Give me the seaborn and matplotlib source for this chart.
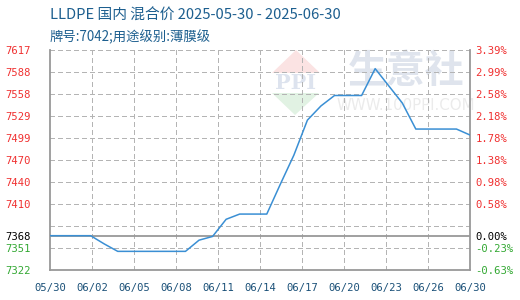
import numpy as np
import pandas as pd
import matplotlib
matplotlib.use("Agg")
import matplotlib.pyplot as plt
import seaborn as sns
from matplotlib.patches import Polygon

# ---------------- data ----------------
dates = ["2025-05-30", "2025-05-31", "2025-06-01", "2025-06-02", "2025-06-03",
         "2025-06-04", "2025-06-05", "2025-06-06", "2025-06-07", "2025-06-08",
         "2025-06-09", "2025-06-10", "2025-06-11", "2025-06-12", "2025-06-13",
         "2025-06-14", "2025-06-15", "2025-06-16", "2025-06-17", "2025-06-18",
         "2025-06-19", "2025-06-20", "2025-06-21", "2025-06-22", "2025-06-23",
         "2025-06-24", "2025-06-25", "2025-06-26", "2025-06-27", "2025-06-28",
         "2025-06-29", "2025-06-30"]
prices = [7368, 7368, 7368, 7368, 7357,
          7347, 7347, 7347, 7347, 7347,
          7347, 7362, 7367, 7390, 7397,
          7397, 7397, 7437, 7476, 7523,
          7542, 7556, 7556, 7556, 7592,
          7569, 7546, 7511, 7511, 7511,
          7511, 7503]
base_price = 7368
x_labels = ["05/30", "06/02", "06/05", "06/08", "06/11", "06/14",
            "06/17", "06/20", "06/23", "06/26", "06/30"]
y_min, y_max = 7322, 7617
left_labels = ["7322", "7351", "", "7410", "7440", "7470", "7499",
               "7529", "7558", "7588", "7617"]
right_labels = ["-0.63%", "-0.23%", "", "0.58%", "0.98%", "1.38%", "1.78%",
                "2.18%", "2.58%", "2.99%", "3.39%"]
base_left_label = "7368"
base_right_label = "0.00%"
title_line1 = "LLDPE 国内 混合价 2025-05-30 - 2025-06-30"
title_line2 = "牌号:7042;用途级别:薄膜级"

# ---------------- figure ----------------
sns.set_theme(style="white")
plt.rcParams['font.family'] = ['Noto Sans CJK SC', 'DejaVu Sans']

W, H = 520, 300
fig = plt.figure(figsize=(W / 100, H / 100), dpi=100)
fig.patch.set_facecolor("white")

L, R, T, B = 50, 470, 50, 270
ax = fig.add_axes([L / W, 1 - B / H, (R - L) / W, (B - T) / H])
ax.set_facecolor("none")
ax.set_zorder(2)

df = pd.DataFrame({"date": pd.to_datetime(dates), "price": prices})
df["day"] = (df["date"] - df["date"].iloc[0]).dt.days


def px(x, y):
    return (x / W, 1 - y / H)

# watermark (behind the plot)
fig.add_artist(Polygon([px(296, 50), px(320, 73), px(272, 73)], closed=True,
                       transform=fig.transFigure, facecolor="#fbe3e3",
                       edgecolor="none", zorder=-1))
fig.add_artist(Polygon([px(272, 93), px(319, 93), px(295, 115)], closed=True,
                       transform=fig.transFigure, facecolor="#e1f2e3",
                       edgecolor="none", zorder=-1))
fig.text(*px(296, 83), "PPI", fontsize=15, fontweight="bold", color="#dde3ee",
         ha="center", va="center", family="DejaVu Serif", zorder=-1)
fig.text(*px(406, 72), "生意社", fontsize=28, fontweight="bold", color="#dfe4ed",
         ha="center", va="center", zorder=-1)
fig.text(*px(406, 106), "WWW.100PPI.COM", fontsize=10.8, color="#ebebeb",
         ha="center", va="center", family="DejaVu Sans", zorder=-1)

xt = np.linspace(0, df["day"].iloc[-1], len(x_labels))
yt = np.linspace(y_min, y_max, len(left_labels))

sns.lineplot(data=df, x="day", y="price", ax=ax, color="#3a8fd4",
             linewidth=1.1, zorder=5)
ax.axhline(base_price, color="#999999", linewidth=1.3, zorder=3)

ax.set_xlim(0, df["day"].iloc[-1])
ax.set_ylim(y_min, y_max)

ax.set_xticks(xt)
ax.set_xticklabels(x_labels)
ax.set_yticks(list(yt) + [base_price])
ax.set_yticklabels(left_labels + [base_left_label])
ax.set_xlabel("")
ax.set_ylabel("")

grid_kw = dict(color="#b4b4b4", linewidth=0.75, linestyle=(0, (4, 3)),
               antialiased=False, zorder=1)
for v in xt[1:-1]:
    ax.axvline(v, **grid_kw)
for v in yt[1:]:
    ax.axhline(v, **grid_kw)

for s in ["left", "right", "bottom"]:
    ax.spines[s].set_color("#999999")
    ax.spines[s].set_linewidth(1.3)
ax.spines["top"].set_visible(False)

mono = "DejaVu Sans Mono"
ax.tick_params(axis="both", length=0)
ax.tick_params(axis="x", pad=9, labelsize=7.6, labelcolor="#1a5078")
for t in ax.get_xticklabels():
    t.set_family(mono)
ax.tick_params(axis="y", pad=0, labelsize=7.6)
for t in ax.get_yticklabels():
    t.set_family(mono)
    t.set_horizontalalignment("left")
    txt = t.get_text()
    if txt == base_left_label:
        t.set_color("black")
    elif txt and int(txt) < base_price:
        t.set_color("#33a833")
    else:
        t.set_color("#f03030")
for lab in ax.get_yticklabels():
    lab.set_position((-45 / (R - L), lab.get_position()[1]))

ax2 = ax.twinx()
ax2.set_ylim(y_min, y_max)
ax2.set_yticks(list(yt) + [base_price])
ax2.set_yticklabels(right_labels + [base_right_label])
ax2.tick_params(axis="y", length=0, pad=4, labelsize=7.6)
for t in ax2.get_yticklabels():
    t.set_family(mono)
    txt = t.get_text()
    if txt == base_right_label:
        t.set_color("black")
    elif txt.startswith("-"):
        t.set_color("#33a833")
    else:
        t.set_color("#f03030")
for s in ax2.spines.values():
    s.set_visible(False)
ax2.grid(False)
ax2.patch.set_visible(False)

fig.text(50 / W, 1 - 16 / H, title_line1, fontsize=10.6, color="#1d5f8f",
         ha="left", va="center")
fig.text(50 / W, 1 - 37 / H, title_line2, fontsize=9.6, color="#1d5f8f",
         ha="left", va="center")

fig.savefig("out.png", dpi=100, facecolor="white")
